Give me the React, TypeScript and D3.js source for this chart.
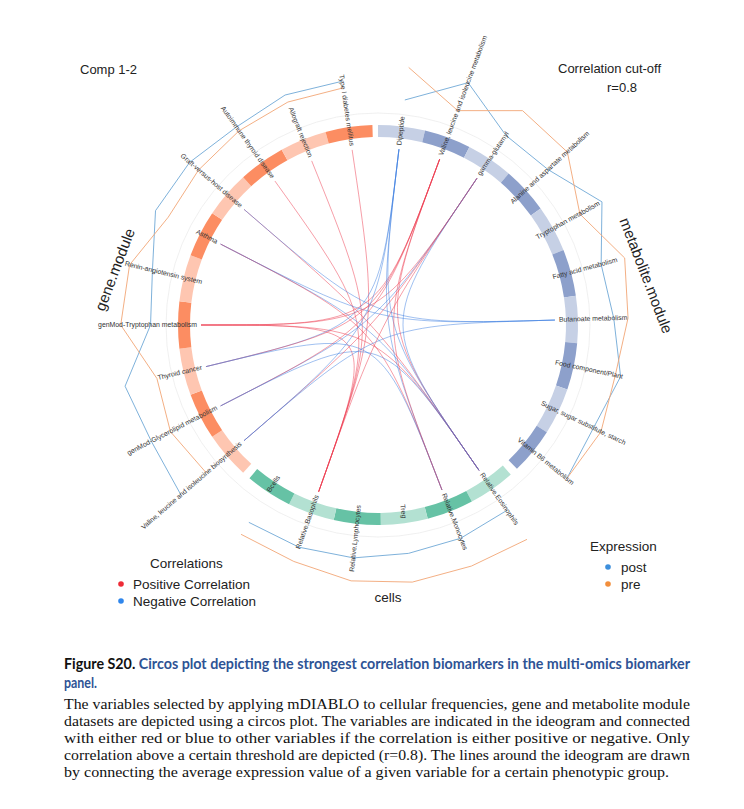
import React from 'react';
import * as d3 from 'd3';

// variables per block, listed clockwise
const metaboliteVars = [
  'Dipeptide',
  'Valine, leucine and isoleucine metabolism',
  'gamma-glutamyl',
  'Alanine and aspartate metabolism',
  'Tryptophan metabolism',
  'Fatty acid metabolism',
  'Butanoate metabolism',
  'Food component/Plant',
  'Sugar, sugar substitute, starch',
  'Vitamin B6 metabolism',
];
const cellVars = [
  'Relative.Eosinophils',
  'Relative.Monocytes',
  'Treg',
  'Relative.Lymphocytes',
  'Relative.Basophils',
  'Bcells',
];
const geneVars = [
  'Valine, leucine and isoleucine biosynthesis',
  'genMod-Glycerolipid metabolism',
  'Thyroid cancer',
  'genMod-Tryptophan metabolism',
  'Renin-angiotensin system',
  'Asthma',
  'Graft-versus-host disease',
  'Autoimmune thyroid disease',
  'Allograft rejection',
  'Type I diabetes mellitus',
];

// average expression (scaled 0-1) per group, same order as the variables
const metabolitePost = [0.11, 0.87, 0.16, 0.2, 0.8, 0.22, 0.33, 0.62, 0.4, 0.51];
const metabolitePre = [0.89, 0.16, 0.87, 0.82, 0.2, 0.8, 0.67, 0.49, 0.6, 0.51];
const cellPost = [0.09, 0.16, 0.2, 0.29, 0.33, 0.33];
const cellPre = [0.93, 0.87, 0.89, 0.84, 0.69, 0.67];
const genePost = [0.91, 0.78, 0.91, 0.13, 0.24, 0.67, 0.64, 0.51, 0.62, 0.58];
const genePre = [0.11, 0.27, 0.13, 0.84, 0.8, 0.33, 0.36, 0.4, 0.44, 0.42];

// correlations above cut-off: [from, to, sign]
const links: [string, string, number][] = [
  ['Type I diabetes mellitus', 'Relative.Basophils', 1],
  ['Allograft rejection', 'Relative.Basophils', 1],
  ['Autoimmune thyroid disease', 'Relative.Basophils', 1],
  ['Graft-versus-host disease', 'Relative.Eosinophils', 1],
  ['Graft-versus-host disease', 'Butanoate metabolism', -1],
  ['Asthma', 'Relative.Eosinophils', -1],
  ['Asthma', 'Butanoate metabolism', -1],
  ['Asthma', 'Relative.Monocytes', 1],
  ['genMod-Tryptophan metabolism', 'Valine, leucine and isoleucine metabolism', 1],
  ['genMod-Tryptophan metabolism', 'gamma-glutamyl', 1],
  ['genMod-Tryptophan metabolism', 'Relative.Eosinophils', 1],
  ['genMod-Tryptophan metabolism', 'Relative.Basophils', 1],
  ['Thyroid cancer', 'Dipeptide', -1],
  ['Thyroid cancer', 'Valine, leucine and isoleucine metabolism', 1],
  ['Thyroid cancer', 'Relative.Monocytes', -1],
  ['genMod-Glycerolipid metabolism', 'gamma-glutamyl', -1],
  ['genMod-Glycerolipid metabolism', 'Valine, leucine and isoleucine metabolism', 1],
  ['genMod-Glycerolipid metabolism', 'Relative.Eosinophils', -1],
  ['Valine, leucine and isoleucine biosynthesis', 'gamma-glutamyl', 1],
  ['Valine, leucine and isoleucine biosynthesis', 'Dipeptide', -1],
  ['Valine, leucine and isoleucine biosynthesis', 'Butanoate metabolism', -1],
  ['Dipeptide', 'Relative.Monocytes', -1],
  ['Dipeptide', 'Relative.Eosinophils', -1],
  ['Valine, leucine and isoleucine metabolism', 'Relative.Eosinophils', 1],
  ['Valine, leucine and isoleucine metabolism', 'Relative.Monocytes', 1],
  ['gamma-glutamyl', 'Relative.Basophils', 1],
  ['gamma-glutamyl', 'Relative.Eosinophils', -1],
];

const captionLines = [
  'The variables selected by applying mDIABLO to cellular frequencies, gene and metabolite module',
  'datasets are depicted using a circos plot. The variables are indicated in the ideogram and connected',
  'with either red or blue to other variables if the correlation is either positive or negative. Only',
  'correlation above a certain threshold are depicted (r=0.8). The lines around the ideogram are drawn',
  'by connecting the average expression value of a given variable for a certain phenotypic group.',
];

const W = 744;
const H = 809;
const cx = 378;
const cy = 325;
const rOuter = 200;
const rInner = 188;
const rLink = 177;
const rLabel = 181;
const FONT = 'Liberation Sans, Arial, sans-serif';

const blocks = [
  { name: 'metabolite', vars: metaboliteVars, post: metabolitePost, pre: metabolitePre, start: 0, color: '#8DA0CB' },
  { name: 'cells', vars: cellVars, post: cellPost, pre: cellPre, start: 138.4, color: '#66C2A5' },
  { name: 'gene', vars: geneVars, post: genePost, pre: genePre, start: 222.4, color: '#FC8D62' },
];
const step = 13.6;

const rad = (deg: number) => (deg * Math.PI) / 180;
const pt = (deg: number, r: number): [number, number] => [
  cx + r * Math.sin(rad(deg)),
  cy - r * Math.cos(rad(deg)),
];

const App: React.FC = () => {
  const angleOf: Record<string, number> = {};
  const scales = blocks.map((b) => {
    const s = d3
      .scaleBand<string>()
      .domain(b.vars)
      .range([b.start, b.start + step * b.vars.length])
      .paddingInner(0);
    b.vars.forEach((v) => (angleOf[v] = (s(v) as number) + s.bandwidth() / 2));
    return s;
  });

  const rExpr = d3.scaleLinear().domain([0, 1]).range([222, 264]);
  const arc = d3.arc<any>().innerRadius(rInner).outerRadius(rOuter);
  const line = d3.line<[number, number]>();

  // links pulled through the centre (cubic, both handles at the centre)
  const linkPath = (a: string, b: string) => {
    const p = d3.path();
    const [x0, y0] = pt(angleOf[a], rLink);
    const [x1, y1] = pt(angleOf[b], rLink);
    p.moveTo(x0, y0);
    p.bezierCurveTo(cx, cy, cx, cy, x1, y1);
    return p.toString();
  };

  return (
    <svg
      width={W}
      height={H}
      style={{ position: 'absolute', left: 0, top: 0, background: '#fff' }}
    >
      <rect width={W} height={H} fill="#fff" />

      {/* faint guide circle */}
      <circle cx={cx} cy={cy} r={212} fill="none" stroke="#ececec" strokeWidth={0.8} />

      {/* ideogram */}
      <g transform={`translate(${cx},${cy})`}>
        {blocks.map((b, bi) =>
          b.vars.map((v, i) => {
            const s = scales[bi];
            const a0 = s(v) as number;
            const light = d3.interpolateRgb(b.color, '#ffffff')(0.5);
            return (
              <path
                key={v}
                d={arc({ startAngle: rad(a0), endAngle: rad(a0 + s.bandwidth()) }) as string}
                fill={i % 2 === 0 ? light : b.color}
              />
            );
          })
        )}
      </g>

      {/* expression lines */}
      {blocks.map((b) =>
        [
          { vals: b.post, color: '#6FA8D6' },
          { vals: b.pre, color: '#F2A676' },
        ].map((g, gi) => (
          <path
            key={b.name + gi}
            d={line(b.vars.map((v, i) => pt(angleOf[v], rExpr(g.vals[i])))) as string}
            fill="none"
            stroke={g.color}
            strokeWidth={0.9}
          />
        ))
      )}

      {/* correlation links */}
      {links.map(([a, b, s], i) => (
        <path
          key={i}
          d={linkPath(a, b)}
          fill="none"
          stroke={s > 0 ? '#EC3A4E' : '#3E7FE0'}
          strokeOpacity={0.55}
          strokeWidth={0.9}
        />
      ))}

      {/* variable labels */}
      {blocks.map((b) =>
        b.vars.map((v) => {
          const a = angleOf[v];
          const right = a < 180;
          return (
            <text
              key={'l' + v}
              transform={`translate(${cx},${cy}) rotate(${a - 90}) translate(${rLabel},0)${right ? '' : ' rotate(180)'}`}
              textAnchor={right ? 'start' : 'end'}
              dominantBaseline="middle"
              fontFamily={FONT}
              fontSize={6.9}
              fill="#333"
            >
              {v}
            </text>
          );
        })
      )}

      {/* block names */}
      <text
        transform="translate(116,270) rotate(-69)"
        textAnchor="middle"
        dominantBaseline="middle"
        fontFamily={FONT}
        fontSize={15}
        fill="#222"
      >
        gene.module
      </text>
      <text
        transform="translate(645,276) rotate(69)"
        textAnchor="middle"
        dominantBaseline="middle"
        fontFamily={FONT}
        fontSize={15}
        fill="#222"
      >
        metabolite.module
      </text>
      <text x={388} y={602} textAnchor="middle" fontFamily={FONT} fontSize={13.5} fill="#222">
        cells
      </text>

      {/* header texts */}
      <text x={80} y={74} fontFamily={FONT} fontSize={13} fill="#222">
        Comp 1-2
      </text>
      <text x={558} y={73} fontFamily={FONT} fontSize={13} fill="#222">
        Correlation cut-off
      </text>
      <text x={607} y={92} fontFamily={FONT} fontSize={13} fill="#222">
        r=0.8
      </text>

      {/* correlation legend */}
      <text x={150} y={568} fontFamily={FONT} fontSize={13.5} fill="#222">
        Correlations
      </text>
      <circle cx={121} cy={584} r={2.8} fill="#EE2B36" />
      <text x={133} y={588.5} fontFamily={FONT} fontSize={13.5} fill="#222">
        Positive Correlation
      </text>
      <circle cx={121} cy={601} r={2.8} fill="#2F86EC" />
      <text x={133} y={605.5} fontFamily={FONT} fontSize={13.5} fill="#222">
        Negative Correlation
      </text>

      {/* expression legend */}
      <text x={590} y={551} fontFamily={FONT} fontSize={13.5} fill="#222">
        Expression
      </text>
      <circle cx={608} cy={567} r={2.8} fill="#3D8FDC" />
      <text x={621} y={571.5} fontFamily={FONT} fontSize={13.5} fill="#222">
        post
      </text>
      <circle cx={608} cy={584} r={2.8} fill="#F28E3C" />
      <text x={621} y={588.5} fontFamily={FONT} fontSize={13.5} fill="#222">
        pre
      </text>

      {/* caption */}
      <text
        x={64}
        y={669}
        fontFamily="Lato, Open Sans, sans-serif"
        fontWeight="bold"
        fontSize={15}
        textLength={626}
        lengthAdjust="spacingAndGlyphs"
      >
        <tspan fill="#111">Figure S20. </tspan>
        <tspan fill="#2E5395">
          Circos plot depicting the strongest correlation biomarkers in the multi-omics biomarker
        </tspan>
      </text>
      <text
        x={64}
        y={688}
        fontFamily="Lato, Open Sans, sans-serif"
        fontWeight="bold"
        fontSize={15}
        fill="#2E5395"
        textLength={33}
        lengthAdjust="spacingAndGlyphs"
      >
        panel.
      </text>
      {captionLines.map((t, i) => (
        <text
          key={i}
          x={64}
          y={709 + i * 17}
          fontFamily="Liberation Serif, Times New Roman, serif"
          fontSize={15}
          fill="#111"
          textLength={i === captionLines.length - 1 ? 605 : 626}
          lengthAdjust="spacingAndGlyphs"
        >
          {t}
        </text>
      ))}
    </svg>
  );
};

export default App;
